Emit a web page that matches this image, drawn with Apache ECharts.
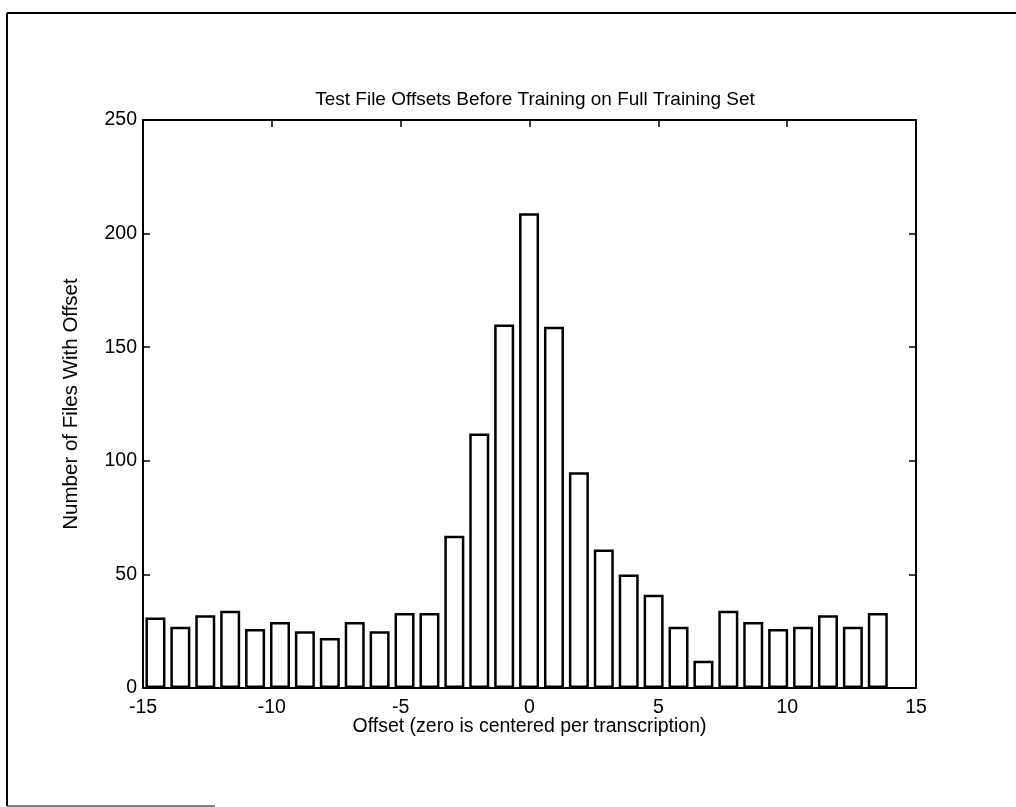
<!DOCTYPE html>
<html>
<head>
<meta charset="utf-8">
<title>Test File Offsets Before Training on Full Training Set</title>
<script src="https://cdn.jsdelivr.net/npm/echarts@6/dist/echarts.min.js"></script>
<style>
  html, body { margin: 0; padding: 0; background: #ffffff; }
  #chart { width: 1016px; height: 807px; }
</style>
</head>
<body>
<div id="chart"></div>
<script>
// Histogram bin centres (offset) and counts of files per bin
const binCenters = [
  -14.517, -13.550, -12.583, -11.617, -10.650, -9.683, -8.717, -7.750, -6.783, -5.817,
  -4.850, -3.883, -2.917, -1.950, -0.983, -0.017, 0.950, 1.917, 2.883, 3.850,
  4.817, 5.783, 6.750, 7.717, 8.683, 9.650, 10.617, 11.583, 12.550, 13.517
];
const fileCounts = [
  31, 27, 32, 34, 26, 29, 25, 22, 29, 25,
  33, 33, 67, 112, 160, 209, 159, 95, 61, 50,
  41, 27, 12, 34, 29, 26, 27, 32, 27, 33
];
const xTickLabels = ['-15', '-10', '-5', '0', '5', '10', '15'];
const yTickLabels = ['0', '50', '100', '150', '200', '250'];

const titleText = 'Test File Offsets Before Training on Full Training Set';
const xName = 'Offset (zero is centered per transcription)';
const yName = 'Number of Files With Offset';

const font = 'Liberation Sans, Arial, Helvetica, sans-serif';
const ink = '#000000';
const labelSize = 19.5;

const chart = echarts.init(document.getElementById('chart'), null, { renderer: 'canvas' });

const tickStyle = { show: true, inside: true, length: 7, lineStyle: { color: ink, width: 1.5 } };
const lineStyle = { show: true, onZero: false, lineStyle: { color: ink, width: 2 } };

chart.setOption({
  backgroundColor: '#ffffff',
  animation: false,
  title: {
    text: titleText,
    left: 530,
    top: 85,
    textAlign: 'center',
    textStyle: { fontFamily: font, fontSize: 19, fontWeight: 'normal', color: ink }
  },
  grid: { left: 143, right: 100, top: 120, bottom: 119, containLabel: false },
  xAxis: [
    {
      type: 'value', position: 'bottom', min: -15, max: 15, interval: 5,
      name: xName, nameLocation: 'middle', nameGap: 29, nameMoveOverlap: false,
      nameTextStyle: { fontFamily: font, fontSize: labelSize, color: ink },
      axisLine: lineStyle, axisTick: tickStyle, splitLine: { show: false },
      axisLabel: {
        margin: 10, fontFamily: font, fontSize: labelSize, color: ink,
        formatter: (v) => xTickLabels[Math.round((v + 15) / 5)]
      }
    },
    {
      type: 'value', position: 'top', min: -15, max: 15, interval: 5,
      axisLine: lineStyle, axisTick: tickStyle, splitLine: { show: false },
      axisLabel: { show: false }
    }
  ],
  yAxis: [
    {
      type: 'value', position: 'left', min: 0, max: 250, interval: 50,
      name: yName, nameLocation: 'middle', nameGap: 61, nameRotate: 90, nameMoveOverlap: false,
      nameTextStyle: { fontFamily: font, fontSize: 20.5, color: ink },
      axisLine: lineStyle, axisTick: tickStyle, splitLine: { show: false },
      axisLabel: {
        margin: 6, fontFamily: font, fontSize: labelSize, color: ink,
        formatter: (v) => yTickLabels[Math.round(v / 50)]
      }
    },
    {
      type: 'value', position: 'right', min: 0, max: 250, interval: 50,
      axisLine: lineStyle, axisTick: tickStyle, splitLine: { show: false },
      axisLabel: { show: false }
    }
  ],
  series: [
    {
      type: 'bar',
      xAxisIndex: 0,
      yAxisIndex: 0,
      barWidth: 20,
      data: binCenters.map((c, i) => [c, fileCounts[i]]),
      itemStyle: { color: '#ffffff', borderColor: ink, borderWidth: 2.5 }
    }
  ],
  graphic: [
    // figure border
    { type: 'line', shape: { x1: 7, y1: 13, x2: 1016, y2: 13 }, style: { stroke: ink, lineWidth: 2 } },
    { type: 'line', shape: { x1: 7, y1: 13, x2: 7, y2: 806 }, style: { stroke: ink, lineWidth: 2 } },
    { type: 'line', shape: { x1: 7, y1: 806, x2: 215, y2: 806 }, style: { stroke: '#555555', lineWidth: 1.5 } }
  ]
});
</script>
</body>
</html>
